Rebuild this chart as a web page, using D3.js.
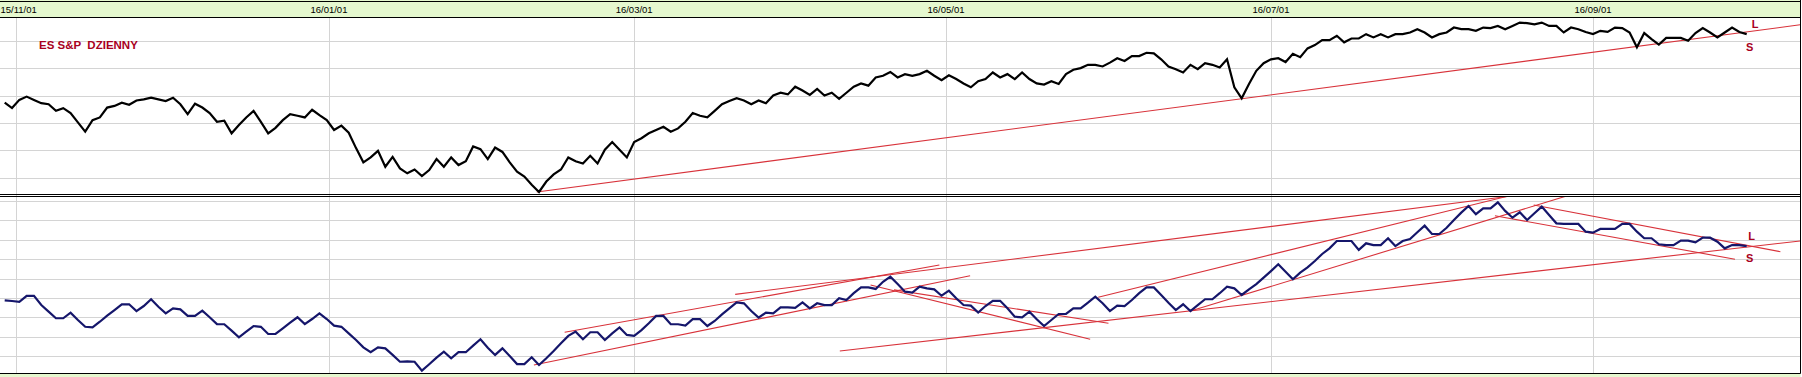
<!DOCTYPE html>
<html>
<meta charset="utf-8">
<head>
  <title>ES S&amp;P dzienny</title>
  <script src="https://d3js.org/d3.v7.min.js"></script>
  <style type="text/css">
    body {margin: 0; background: #fff;}
    text {font-family: "Liberation Sans", Arial, sans-serif;}
  </style>
</head>
<body>
<div id="chart"></div>
<script>
// ES S&P daily close (upper panel), one value per session
var price = [
  2037, 2027, 2042, 2048, 2042, 2036, 2034, 2022, 2027, 2018, 2001, 1984, 2005, 2010, 2028, 2031, 2037, 2033, 2041, 2043,
  2046, 2043, 2040, 2046, 2034, 2016, 2035, 2028, 2018, 2002, 2004, 1981, 1996, 2010, 2022, 2002, 1981, 1991, 2005, 2016,
  2013, 2010, 2024, 2014, 2005, 1987, 1995, 1982, 1954, 1928, 1937, 1949, 1920, 1938, 1917,
  1908, 1915, 1903, 1914, 1934, 1920, 1937, 1923, 1930, 1957, 1952, 1934, 1955, 1947, 1928, 1911, 1902, 1887, 1874, 1893,
  1906, 1915, 1937, 1930, 1926, 1940, 1926, 1951, 1965, 1951, 1937, 1965, 1972, 1981, 1987, 1993, 1984, 1990, 2002, 2018,
  2013, 2010, 2022, 2034, 2040, 2045, 2041, 2034, 2041, 2036, 2050, 2055, 2052, 2066, 2059, 2051, 2062, 2050, 2055, 2044,
  2055, 2066, 2072, 2068, 2083, 2086, 2093, 2083, 2089, 2086, 2089, 2095, 2086, 2078, 2087, 2080, 2072, 2065, 2076, 2080,
  2092, 2083,
  2089, 2080, 2092, 2080, 2072, 2070, 2076, 2071, 2089, 2097, 2100, 2106, 2106, 2103, 2110, 2118, 2113, 2122, 2122, 2128,
  2127, 2116, 2103, 2098, 2092, 2106, 2098, 2109, 2106, 2101, 2116, 2065, 2045, 2071, 2095, 2109, 2116, 2118, 2111, 2126,
  2120, 2136, 2142, 2151, 2151, 2159, 2147, 2154, 2154, 2162, 2156, 2162, 2156, 2162,
  2162, 2165, 2171, 2165, 2156, 2162, 2165, 2174, 2171, 2171, 2168, 2174, 2173, 2177, 2171, 2177, 2183, 2182, 2180, 2183,
  2177, 2177, 2165, 2174, 2171, 2166, 2162, 2168, 2166, 2174, 2173, 2165, 2138, 2164, 2153, 2143, 2155, 2155, 2155, 2150,
  2164, 2173, 2165, 2156, 2165, 2174, 2166, 2162
];

// lower panel indicator
var osc = [
  38.8, 38.5, 38.0, 41.1, 41.1, 36.4, 33.0, 29.6, 29.6, 32.5, 28.7, 25.2, 24.9, 27.8, 30.9, 33.8, 36.8, 36.8, 33.3, 35.9,
  39.4, 35.5, 32.1, 34.7, 34.2, 30.8, 30.8, 33.5, 30.1, 26.6, 26.5, 23.2, 19.8, 22.7, 25.6, 25.2, 21.5, 21.5, 24.4, 27.3,
  30.1, 26.6, 29.2, 32.1, 29.2, 25.8, 25.2, 21.8, 18.4, 14.6, 12.1, 14.6, 14.1, 10.7, 7.2,
  7.4, 7.2, 2.6, 5.9, 9.3, 12.4, 9.0, 12.1, 12.1, 15.5, 18.8, 14.4, 10.7, 14.1, 10.1, 6.0, 6.0, 9.5, 5.5, 9.0,
  12.7, 16.7, 20.5, 22.7, 18.8, 22.4, 22.4, 18.4, 21.8, 24.9, 21.0, 20.5, 23.5, 27.0, 30.8, 30.8, 26.5, 26.5, 25.8, 29.1,
  29.1, 25.6, 28.2, 31.6, 34.7, 37.8, 37.3, 33.3, 29.9, 32.5, 32.1, 35.2, 35.2, 35.0, 37.8, 34.7, 37.3, 36.4, 36.4, 39.9,
  39.0, 42.5, 45.5, 45.5, 44.7, 48.4, 51.0, 47.2, 43.3, 42.8, 45.9, 45.0, 44.5, 41.2, 43.8, 39.9, 36.4, 36.1, 32.5, 35.9,
  38.6, 38.6,
  34.7, 30.4, 30.1, 33.0, 29.1, 25.6, 28.7, 31.8, 31.8, 34.7, 34.7, 37.6, 40.7, 37.3, 33.3, 36.1, 35.9, 39.0, 42.5, 45.5,
  45.5, 41.6, 37.6, 33.8, 36.8, 33.3, 36.4, 39.4, 39.4, 42.5, 45.9, 45.0, 41.6, 44.5, 47.2, 50.5, 53.9, 57.4, 53.6, 49.7,
  53.1, 55.8, 59.1, 62.7, 65.6, 69.4, 69.4, 69.4, 64.8, 68.2, 67.3, 67.3, 70.8, 66.8,
  69.4, 70.4, 73.9, 77.3, 73.0, 73.0, 76.2, 80.2, 84.0, 87.4, 83.2, 86.2, 86.2, 89.3, 84.9, 81.4, 84.2, 80.2, 83.7, 87.1,
  82.8, 78.5, 78.2, 78.2, 78.2, 74.2, 73.7, 75.6, 75.6, 75.6, 78.2, 78.2, 74.2, 70.8, 70.8, 67.7, 67.3, 67.3, 69.6, 69.6,
  68.7, 71.1, 71.1, 69.0, 65.6, 67.3, 67.3, 66.8
];

// month labels and the session index where each month starts
var tickLabels = ["15/11/01", "16/01/01", "16/03/01", "16/05/01", "16/07/01", "16/09/01"];
var tickIndex = [1.6, 44.3, 86, 128.6, 173, 217];

// hand drawn trend lines: [index0, value0, index1, value1]
var topTrends = [
  [72.7, 1874, 245.3, 2179]
];
var botTrends = [
  [72.3, 5.5, 131.9, 51.5],
  [76.5, 22.4, 127.7, 57.0],
  [99.8, 41.9, 205.3, 92.3],
  [118.3, 46.7, 148.3, 18.8],
  [121.5, 44.2, 150.8, 27.0],
  [114.1, 12.7, 245.3, 69.4],
  [149.4, 40.4, 205.3, 92.4],
  [162.0, 33.3, 213.4, 92.6],
  [208.9, 87.9, 242.6, 63.9],
  [203.6, 82.4, 236.4, 60.0]
];

var topGrid = [1900, 1950, 2000, 2050, 2100, 2150];
var botGrid = [10, 20, 30, 40, 50, 60, 70, 80, 90];

var width = 1802, height = 377;
var right = 1800.5;
var p1 = {top: 17.5, bottom: 194.5};
var p2 = {top: 196.5, bottom: 373.5};

var green = "#e5f8cf", gridCol = "#d4d4d4", red = "#d8323a", dark = "#a8001e";

var svg = d3.select("#chart")
  .append("svg")
  .attr("width", width)
  .attr("height", height)
  .style("display", "block");

svg.append("rect").attr("width", width).attr("height", height).attr("fill", "#fff");

var x = d3.scaleLinear().domain([0, price.length - 1]).range([4.7, 1746.7]);
var yTop = d3.scaleLinear().domain([1900, 2150]).range([177.7, 40.7]);
var yBot = d3.scaleLinear().domain([10, 90]).range([356.3, 201]);

// clip each panel
var defs = svg.append("defs");
defs.append("clipPath").attr("id", "clip1").append("rect")
  .attr("x", 0).attr("y", p1.top).attr("width", right).attr("height", p1.bottom - p1.top);
defs.append("clipPath").attr("id", "clip2").append("rect")
  .attr("x", 0).attr("y", p2.top).attr("width", right).attr("height", p2.bottom - p2.top);

// header and footer bands
svg.append("rect").attr("x", 0).attr("y", 0).attr("width", right).attr("height", p1.top).attr("fill", green);
svg.append("rect").attr("x", 0).attr("y", p2.bottom).attr("width", right).attr("height", height - p2.bottom).attr("fill", green);

// horizontal grid
svg.append("g").selectAll("line").data(topGrid).enter().append("line")
  .attr("x1", 0).attr("x2", right)
  .attr("y1", function(d) { return Math.round(yTop(d)) + 0.5; })
  .attr("y2", function(d) { return Math.round(yTop(d)) + 0.5; })
  .attr("stroke", gridCol);
svg.append("g").selectAll("line").data(botGrid).enter().append("line")
  .attr("x1", 0).attr("x2", right)
  .attr("y1", function(d) { return Math.round(yBot(d)) + 0.5; })
  .attr("y2", function(d) { return Math.round(yBot(d)) + 0.5; })
  .attr("stroke", gridCol);

// vertical grid
svg.append("g").selectAll("line").data(tickIndex).enter().append("line")
  .attr("x1", function(d) { return Math.round(x(d)) + 0.5; })
  .attr("x2", function(d) { return Math.round(x(d)) + 0.5; })
  .attr("y1", p1.top).attr("y2", p2.bottom)
  .attr("stroke", gridCol);

// month labels in the header (the first one is pushed in so it is not cut)
svg.append("g").selectAll("text").data(tickLabels).enter().append("text")
  .attr("x", function(d, i) { return i == 0 ? 0.5 : x(tickIndex[i]); })
  .attr("y", 13)
  .attr("text-anchor", function(d, i) { return i == 0 ? "start" : "middle"; })
  .attr("font-size", "9.5px")
  .attr("fill", "#000")
  .text(function(d) { return d; });

// trend lines
var g1 = svg.append("g").attr("clip-path", "url(#clip1)");
var g2 = svg.append("g").attr("clip-path", "url(#clip2)");

g1.selectAll("line.trend").data(topTrends).enter().append("line")
  .attr("class", "trend")
  .attr("x1", function(d) { return x(d[0]); })
  .attr("y1", function(d) { return yTop(d[1]); })
  .attr("x2", function(d) { return x(d[2]); })
  .attr("y2", function(d) { return yTop(d[3]); })
  .attr("stroke", red).attr("stroke-width", 1.1);

g2.selectAll("line.trend").data(botTrends).enter().append("line")
  .attr("class", "trend")
  .attr("x1", function(d) { return x(d[0]); })
  .attr("y1", function(d) { return yBot(d[1]); })
  .attr("x2", function(d) { return x(d[2]); })
  .attr("y2", function(d) { return yBot(d[3]); })
  .attr("stroke", red).attr("stroke-width", 1.1);

// series
g1.append("path")
  .datum(price)
  .attr("fill", "none")
  .attr("stroke", "#000")
  .attr("stroke-width", 2.2)
  .attr("d", d3.line().x(function(d, i) { return x(i); }).y(function(d) { return yTop(d); }));

g2.append("path")
  .datum(osc)
  .attr("fill", "none")
  .attr("stroke", "#15166b")
  .attr("stroke-width", 2.2)
  .attr("d", d3.line().x(function(d, i) { return x(i); }).y(function(d) { return yBot(d); }));

// frame lines
var frame = [[0, 1.5, right, 1.5], [0, p1.top, right, p1.top], [0, p1.bottom, right, p1.bottom],
             [0, p2.top, right, p2.top], [0, p2.bottom, right, p2.bottom], [right, 0, right, p2.bottom]];
svg.append("g").selectAll("line").data(frame).enter().append("line")
  .attr("x1", function(d) { return d[0]; }).attr("y1", function(d) { return d[1]; })
  .attr("x2", function(d) { return d[2]; }).attr("y2", function(d) { return d[3]; })
  .attr("stroke", "#000");

// title and L / S marks
svg.append("text")
  .attr("x", 39).attr("y", 49)
  .attr("font-size", "11.5px").attr("font-weight", "bold")
  .attr("fill", dark)
  .attr("xml:space", "preserve")
  .style("white-space", "pre")
  .text("ES S&P  DZIENNY");

var marks = [
  {t: "L", i: 238.7, v: 2174, panel: 1},
  {t: "S", i: 237.9, v: 2132, panel: 1},
  {t: "L", i: 238.2, v: 69.9, panel: 2},
  {t: "S", i: 237.9, v: 58.7, panel: 2}
];
svg.append("g").selectAll("text").data(marks).enter().append("text")
  .attr("x", function(d) { return x(d.i); })
  .attr("y", function(d) { return d.panel == 1 ? yTop(d.v) : yBot(d.v); })
  .attr("font-size", "11px").attr("font-weight", "bold")
  .attr("fill", dark)
  .text(function(d) { return d.t; });
</script>
</body>
</html>
